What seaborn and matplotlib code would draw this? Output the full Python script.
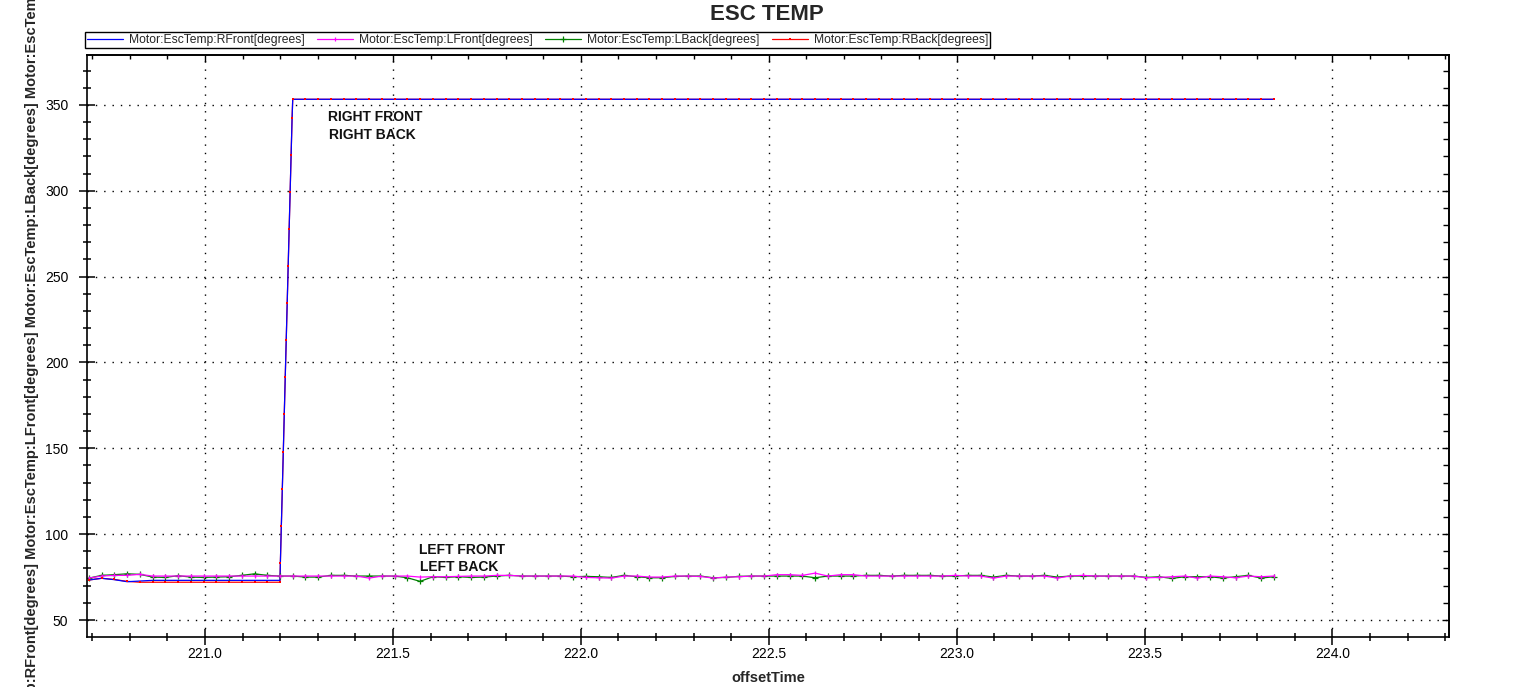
import numpy as np
import matplotlib
matplotlib.use("Agg")
import matplotlib.pyplot as plt
import seaborn as sns
from matplotlib.ticker import MultipleLocator, FormatStrFormatter, NullFormatter

# ---------------- data ----------------
sample_start = 220.691      # first logged sample (s)
sample_step = 0.0339        # logging period (s)
n_samples = 94
time = np.round(sample_start + sample_step * np.arange(n_samples), 4)

series_names = ["Motor:EscTemp:RFront[degrees]", "Motor:EscTemp:LFront[degrees]",
                "Motor:EscTemp:LBack[degrees]", "Motor:EscTemp:RBack[degrees]"]
series_colors = ["#0000ff", "#ff00ff", "#008000", "#ff0000"]

lfront = [74.4, 75.6, 76.0, 76.0, 76.6, 75.6,
          75.6, 75.6, 75.6, 75.6, 75.6, 75.6, 75.6, 75.6,
          75.6, 75.6, 75.6, 75.6, 75.6, 75.6, 75.6, 75.6,
          74.4, 75.6, 75.6, 75.6, 75.0, 75.2, 75.2, 75.4, 75.6, 75.6, 76.0, 76.0,
          75.6, 75.6, 75.6, 75.6, 75.6,
          74.8, 74.6, 74.4, 75.6, 75.6, 75.0, 75.0, 75.6, 75.6, 75.4, 74.4, 75.0,
          75.2, 75.6, 75.6, 76.4, 76.4, 76.0, 77.3, 75.6, 76.4, 76.4, 75.6, 75.6,
          75.6, 75.6, 75.6, 75.6, 75.6,
          76.0, 75.6, 75.6, 74.4,
          75.6, 75.6, 75.6, 75.6,
          74.4, 75.6, 76.0,
          75.6, 75.6, 75.6, 75.6,
          74.6, 74.8, 75.2, 75.6, 74.4, 75.6, 75.2, 74.6, 75.6, 75.2, 75.6]

lback = [74.4, 76.0, 76.4, 76.9, 76.6, 75.0, 74.8, 75.8, 75.0, 74.8, 75.0, 75.2,
         76.0, 76.9, 76.0, 75.6, 75.6, 75.0, 75.0, 76.0, 76.0, 75.6, 75.6, 75.6,
         75.6, 74.6, 72.5, 75.2, 74.8, 75.2, 74.8, 75.0, 75.6, 76.0,
         75.6, 75.6, 75.6, 75.6,
         75.2, 75.4, 75.2, 74.8, 76.0, 75.2, 74.6, 74.6, 75.4, 75.6, 75.6, 74.6, 74.8, 75.4,
         75.6, 75.6, 75.6, 75.6, 75.6,
         74.6, 75.6, 75.6, 75.6, 76.0, 76.0, 75.6, 76.0, 76.0, 76.0, 75.6, 75.6,
         76.0, 76.0, 75.0, 76.0, 75.6, 75.6, 76.0, 75.0,
         75.6, 75.6, 75.6, 75.6, 75.6, 75.6,
         74.8, 75.2, 74.2, 75.2, 75.2, 75.2, 74.4, 75.2, 76.0, 74.4, 75.2]

rfront_before = [73.3, 74.3, 73.5, 72.3, 72.7, 73.1, 73.1, 73.1, 73.1, 73.1,
                 73.1, 73.1, 73.1, 73.1, 73.1, 73.1]
rback_before = [73.3, 74.3, 73.6, 72.5, 72.0, 72.0, 72.0, 72.0, 72.0, 72.0,
                72.0, 72.0, 72.0, 72.0, 72.0, 72.0]
ramp_time = [221.2005, 221.2031, 221.2057, 221.2083, 221.2109, 221.2135, 221.2161,
             221.2187, 221.2213, 221.2239, 221.2265, 221.2291, 221.2317]
ramp_values = [83.2, 104.8, 126.3, 147.9, 170.0, 191.6, 213.1, 234.7, 256.2,
               277.8, 299.3, 320.9, 342.4]
right_after = [353.3] * 78

time_right = np.concatenate([time[:16], ramp_time, time[16:]])
rfront = np.concatenate([rfront_before, ramp_values, right_after])
rback = np.concatenate([rback_before, ramp_values, right_after])

# ---------------- style ----------------
sns.set_theme(style="white")
plt.rcParams["font.family"] = ["Liberation Sans", "DejaVu Sans"]
plt.rcParams["axes.edgecolor"] = "black"
plt.rcParams["xtick.color"] = "black"
plt.rcParams["ytick.color"] = "black"

W, H = 1534, 687
fig = plt.figure(figsize=(W / 100, H / 100), dpi=100)
ax = fig.add_axes([87 / W, (H - 637) / H, 1362 / W, 582 / H])

lw = 0.9
sns.lineplot(x=time_right, y=rback, color=series_colors[3], linewidth=lw, marker="s",
             markersize=2, markeredgewidth=0, markeredgecolor=series_colors[3],
             estimator=None, sort=False, ax=ax)
h_rback = ax.lines[-1]
sns.lineplot(x=time_right, y=rfront, color=series_colors[0], linewidth=lw,
             estimator=None, sort=False, ax=ax)
h_rfront = ax.lines[-1]
sns.lineplot(x=time, y=lback, color=series_colors[2], linewidth=lw, marker="+",
             markersize=4, markeredgewidth=0.9, markeredgecolor=series_colors[2],
             estimator=None, sort=False, ax=ax)
h_lback = ax.lines[-1]
sns.lineplot(x=time, y=lfront, color=series_colors[1], linewidth=lw, marker="|",
             markersize=2.5, markeredgewidth=0.9, markeredgecolor=series_colors[1],
             estimator=None, sort=False, ax=ax)
h_lfront = ax.lines[-1]
sns.scatterplot(x=time_right, y=rback, color=series_colors[3], marker="s", s=3,
                linewidth=0, zorder=5, ax=ax)

ax.set_xlim(220.686, 224.310)
ax.set_ylim(40.1, 379.1)

ax.xaxis.set_major_locator(MultipleLocator(0.5))
ax.xaxis.set_minor_locator(MultipleLocator(0.1))
ax.yaxis.set_major_locator(MultipleLocator(50))
ax.yaxis.set_minor_locator(MultipleLocator(10))
ax.xaxis.set_major_formatter(FormatStrFormatter("%.1f"))
ax.yaxis.set_major_formatter(FormatStrFormatter("%d"))

ax.tick_params(axis="both", which="major", direction="inout", length=11, width=1.1,
               labelsize=10, bottom=True, left=True)
ax.tick_params(axis="both", which="minor", direction="inout", length=6, width=1.1,
               bottom=True, left=True)
ax.tick_params(axis="x", which="major", pad=2)
ax.tick_params(axis="y", which="major", pad=8)

secx = ax.secondary_xaxis("top")
secx.xaxis.set_major_locator(MultipleLocator(0.5))
secx.xaxis.set_minor_locator(MultipleLocator(0.1))
secx.xaxis.set_major_formatter(NullFormatter())
secx.tick_params(which="major", direction="in", length=5, width=1.0)
secx.tick_params(which="minor", direction="in", length=3, width=1.0)
secy = ax.secondary_yaxis("right")
secy.yaxis.set_major_locator(MultipleLocator(50))
secy.yaxis.set_minor_locator(MultipleLocator(10))
secy.yaxis.set_major_formatter(NullFormatter())
secy.tick_params(which="major", direction="in", length=5, width=1.0)
secy.tick_params(which="minor", direction="in", length=4, width=1.0)

for s in ax.spines.values():
    s.set_linewidth(1.2)
    s.set_color("black")
for a in (secx, secy):
    for s in a.spines.values():
        s.set_linewidth(1.2)

ax.grid(True, which="major", color="black", linestyle=(0, (1, 5)), linewidth=1.0)

ax.set_xlabel("offsetTime", fontsize=10.5, fontweight="bold")
ax.xaxis.set_label_coords(0.5, -0.0704)
ax.xaxis.label.set_verticalalignment("center")
ax.set_ylabel(" ".join(series_names), fontsize=10.5, fontweight="bold")
ax.yaxis.set_label_coords(-0.0404, 0.525)
ax.yaxis.label.set_verticalalignment("center")

fig.text(0.5, 1 - 15 / H, "ESC TEMP", ha="center", va="center", fontsize=16,
         fontweight="bold")

ann_kw = dict(ha="center", va="center", fontsize=10, fontweight="bold", color="#111111")
ax.text(221.454, 343.0, "RIGHT FRONT", **ann_kw)
ax.text(221.446, 332.5, "RIGHT BACK", **ann_kw)
ax.text(221.683, 90.8, "LEFT FRONT", **ann_kw)
ax.text(221.675, 81.0, "LEFT BACK", **ann_kw)

leg = fig.legend(handles=[h_rfront, h_lfront, h_lback, h_rback], labels=series_names,
                 loc="lower left", bbox_to_anchor=(85 / W, 1 - 48 / H, 905 / W, 14 / H),
                 mode="expand", ncol=4, borderaxespad=0, fontsize=8.7, frameon=True,
                 fancybox=False, framealpha=1, edgecolor="black", borderpad=0.15,
                 handlelength=3.0, handletextpad=0.5, numpoints=1)
leg.get_frame().set_linewidth(1.0)

fig.savefig("out.png", dpi=100)
